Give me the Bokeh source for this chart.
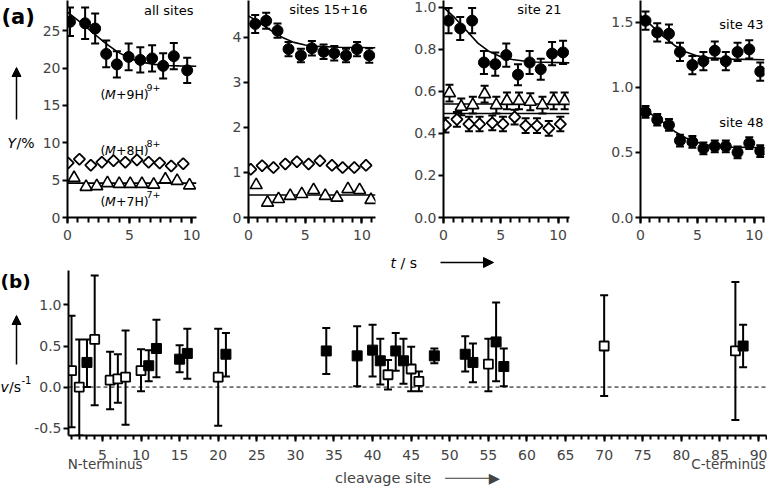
import numpy as np
from bokeh.plotting import figure
from bokeh.models import (Range1d, Whisker, TeeHead, Label, Arrow, NormalHead, Span,
                          SingleIntervalTicker, FixedTicker, PrintfTickFormatter,
                          ColumnDataSource, LinearAxis)
from bokeh.core.properties import value
from bokeh.layouts import column, row
from bokeh.embed import file_html
from bokeh.resources import INLINE

# ---------------- data ----------------
# (a) all sites
all_t9 = [0.2, 1.42, 2.23, 3.12, 3.98, 4.93, 5.87, 6.82, 7.71, 8.57, 9.65]
all_y9 = [26.2, 26.0, 25.3, 21.9, 20.5, 21.5, 21.1, 21.3, 20.3, 21.6, 19.7]
all_e9 = [1.9, 2.1, 2.0, 1.8, 1.75, 1.8, 1.7, 1.75, 1.7, 1.75, 1.7]
all_fit9_t = [0, 1, 2, 3, 4, 5, 6, 7, 8, 9, 10.4]
all_fit9_y = [27.5, 26.2, 24.8, 23.4, 22.2, 21.3, 20.8, 20.5, 20.35, 20.3, 20.25]
all_t8 = [0.05, 0.96, 1.88, 2.77, 3.71, 4.66, 5.6, 6.54, 7.43, 8.36, 9.33]
all_y8 = [7.3, 7.8, 7.0, 7.4, 7.6, 7.4, 7.7, 7.4, 7.3, 6.9, 7.2]
all_t7 = [0.53, 1.5, 2.36, 3.22, 4.17, 5.06, 6.0, 6.95, 7.89, 8.84, 9.84]
all_y7 = [5.3, 4.1, 4.2, 4.6, 4.5, 4.5, 4.5, 4.4, 5.1, 4.9, 4.3]
all_fit7_t = [0, 10.4]
all_fit7_y = [4.6, 4.6]

# (a) sites 15+16
s15_t9 = [0.59, 1.56, 2.56, 3.53, 4.62, 5.59, 6.62, 7.56, 8.6, 9.57, 10.65]
s15_y9 = [4.3, 4.37, 4.15, 3.74, 3.6, 3.76, 3.68, 3.65, 3.6, 3.74, 3.6]
s15_e9 = [0.2, 0.18, 0.16, 0.16, 0.15, 0.16, 0.16, 0.16, 0.15, 0.16, 0.16]
s15_fit9_t = [0, 1, 2, 3, 4, 5, 6, 8, 11.2]
s15_fit9_y = [4.48, 4.32, 4.15, 4.0, 3.89, 3.83, 3.8, 3.78, 3.77]
s15_t8 = [0.2, 1.2, 2.2, 3.25, 4.27, 5.3, 6.3, 7.36, 8.3, 9.33, 10.36]
s15_y8 = [1.07, 1.15, 1.11, 1.19, 1.24, 1.19, 1.26, 1.16, 1.11, 1.11, 1.16]
s15_t7 = [0.68, 1.68, 2.65, 3.68, 4.7, 5.74, 6.77, 7.8, 8.77, 9.8, 10.8]
s15_y7 = [0.72, 0.33, 0.41, 0.48, 0.52, 0.61, 0.48, 0.44, 0.63, 0.61, 0.39]
s15_fit7_t = [0, 11.2]
s15_fit7_y = [0.5, 0.5]

# (a) site 21
s21_t9 = [0.44, 1.46, 2.5, 3.53, 4.52, 5.48, 6.5, 7.52, 8.49, 9.48, 10.44]
s21_y9 = [0.937, 0.9, 0.937, 0.738, 0.73, 0.773, 0.68, 0.738, 0.706, 0.78, 0.786]
s21_e9 = [0.06, 0.055, 0.06, 0.055, 0.055, 0.055, 0.05, 0.055, 0.05, 0.055, 0.055]
s21_fit9_t = [0, 1, 2, 3, 4, 5, 6, 7, 8, 11]
s21_fit9_y = [1.0, 0.95, 0.89, 0.83, 0.79, 0.765, 0.752, 0.745, 0.74, 0.736]
s21_t8 = [0.17, 1.17, 2.22, 3.15, 4.26, 5.19, 6.21, 7.17, 8.16, 9.19, 10.2]
s21_y8 = [0.44, 0.467, 0.445, 0.445, 0.45, 0.445, 0.478, 0.437, 0.437, 0.424, 0.445]
s21_e8 = [0.035] * 11
s21_t7 = [0.52, 1.55, 2.56, 3.59, 4.61, 5.54, 6.59, 7.58, 8.64, 9.62, 10.58]
s21_y7 = [0.592, 0.527, 0.535, 0.587, 0.535, 0.555, 0.555, 0.551, 0.535, 0.555, 0.555]
s21_e7 = [0.04] * 11
s21_fit7_t = [0, 11]
s21_fit7_y = [0.54, 0.54]
s21_fit8_t = [0, 11]
s21_fit8_y = [0.495, 0.495]

# (a) sites 43 and 48
s43_t = [0.44, 1.47, 2.5, 3.47, 4.56, 5.53, 6.53, 7.5, 8.53, 9.56, 10.53]
s43_y = [1.51, 1.42, 1.41, 1.27, 1.17, 1.2, 1.28, 1.2, 1.27, 1.29, 1.12]
s43_e = [0.07] * 11
s43_fit_t = [0, 1, 2, 3, 4, 5, 6, 8, 10.9]
s43_fit_y = [1.55, 1.47, 1.39, 1.32, 1.27, 1.24, 1.225, 1.215, 1.21]
s48_t = [0.44, 1.47, 2.5, 3.47, 4.56, 5.53, 6.53, 7.5, 8.53, 9.56, 10.53]
s48_y = [0.81, 0.75, 0.71, 0.59, 0.58, 0.53, 0.546, 0.546, 0.5, 0.57, 0.51]
s48_e = [0.045] * 11
s48_fit_t = [0, 1, 2, 3, 4, 5, 6, 8, 10.9]
s48_fit_y = [0.84, 0.79, 0.73, 0.66, 0.61, 0.575, 0.555, 0.54, 0.535]

# (b) rate per cleavage site
open_site = [1, 2, 4, 6, 7, 8, 10, 20, 42, 45, 46, 55, 70, 87]
open_v = [0.2, 0.0, 0.58, 0.084, 0.1, 0.12, 0.2, 0.12, 0.15, 0.22, 0.07, 0.28, 0.5, 0.44]
open_lo = [-0.49, -0.59, -0.22, -0.27, -0.19, -0.46, -0.05, -0.47, -0.03, -0.05, -0.05, -0.05, -0.11, -0.4]
open_hi = [0.87, 0.58, 1.36, 0.43, 0.4, 0.69, 0.46, 0.71, 0.33, 0.49, 0.19, 0.59, 1.12, 1.28]
fill_site = [3, 11, 12, 15, 16, 21, 34, 38, 40, 41, 43, 44, 48, 52, 53, 56, 57, 88]
fill_v = [0.3, 0.26, 0.47, 0.34, 0.41, 0.4, 0.44, 0.38, 0.45, 0.32, 0.44, 0.32, 0.38, 0.4, 0.3, 0.55, 0.25, 0.5]
fill_lo = [0.0, 0.07, 0.12, 0.18, 0.1, 0.13, 0.16, 0.01, 0.13, 0.03, 0.2, 0.04, 0.29, 0.19, 0.06, 0.07, 0.01, 0.24]
fill_hi = [0.58, 0.45, 0.82, 0.51, 0.71, 0.66, 0.72, 0.74, 0.76, 0.59, 0.66, 0.59, 0.47, 0.62, 0.53, 1.03, 0.47, 0.76]
terminus_pos = [5.35, 86.1]
terminus_lab = ["N-terminus", "C-terminus"]

# ---------------- layout helpers ----------------
FONT = "DejaVu Sans"


def base_fig(cx0, cx1, cy0, cy1, fl, fr, ft, fb, xr, yr):
    p = figure(width=cx1 - cx0, height=cy1 - cy0, x_range=Range1d(*xr), y_range=Range1d(*yr),
               min_border_left=fl - cx0, min_border_right=cx1 - fr,
               min_border_top=ft - cy0, min_border_bottom=cy1 - fb,
               output_backend="svg", toolbar_location=None, tools="")
    p.outline_line_color = None
    p.xgrid.visible = False
    p.ygrid.visible = False
    p.background_fill_color = "white"
    p.border_fill_color = "white"
    for ax in (p.xaxis[0], p.yaxis[0]):
        ax.axis_line_width = 2
        ax.major_tick_line_width = 2
        ax.minor_tick_line_width = 2
        ax.major_tick_in = 0
        ax.minor_tick_in = 0
        ax.major_label_text_font = FONT
        ax.major_label_text_font_size = "14px"
    p.xaxis.major_tick_out = 6
    p.xaxis.minor_tick_out = 5
    p.xaxis.major_label_standoff = 6
    p.yaxis.major_tick_out = 5
    p.yaxis.major_label_standoff = 2
    p.yaxis.minor_tick_line_color = None
    return p, dict(fx=fl, fy=fb)


def blank_fig(w, h, y_top, y_bottom):
    # frame is aligned with its row neighbours; data units equal page pixels
    p = figure(width=w, height=h, x_range=Range1d(0, w), y_range=Range1d(y_bottom, y_top),
               x_axis_type=None, y_axis_type=None, min_border_left=0, min_border_right=0,
               min_border_top=0, min_border_bottom=0,
               output_backend="svg", toolbar_location=None, tools="")
    p.outline_line_color = None
    p.background_fill_color = "white"
    p.border_fill_color = "white"
    return p


def gtext(p, x, y, s, size=14, style="normal", align="left"):
    p.text(x=[x], y=[y], text=[s], text_font=value(FONT), text_font_size=value(f"{size}px"),
           text_font_style=value(style), text_align=value(align), text_baseline=value("middle"),
           text_color="black")


def garrow(p, x0, y0, x1, y1, head=9):
    p.add_layout(Arrow(x_start=x0, y_start=y0, x_end=x1, y_end=y1, line_width=1.5, line_color="black",
                       end=NormalHead(size=head, fill_color="black", line_color="black", line_width=1)))


def txt(p, g, X, Y, text, size=14, align="left", style="normal"):
    p.add_layout(Label(x=X - g["fx"], y=g["fy"] - Y, x_units="screen", y_units="screen",
                       text=text, text_font=FONT, text_font_size=f"{size}px",
                       text_align=align, text_baseline="middle", text_font_style=style,
                       text_color="black"))


def whisk(p, x, lo, hi, head=8):
    src = ColumnDataSource(dict(base=x, lower=lo, upper=hi))
    p.add_layout(Whisker(source=src, base="base", lower="lower", upper="upper", dimension="height",
                         line_width=2, line_color="black",
                         upper_head=TeeHead(size=head, line_width=2, line_color="black"),
                         lower_head=TeeHead(size=head, line_width=2, line_color="black")))


def err(p, x, y, e):
    whisk(p, x, [a - b for a, b in zip(y, e)], [a + b for a, b in zip(y, e)])


def circles(p, x, y):
    p.scatter(x, y, marker="circle", size=11, fill_color="black", line_color="black")


def diamonds(p, x, y):
    p.scatter(x, y, marker="square", angle=np.pi / 4, size=8, fill_color="white",
              line_color="black", line_width=1.8)


def triangles(p, x, y):
    p.scatter(x, y, marker="triangle", size=12, fill_color="white", line_color="black", line_width=1.6)


def fit(p, x, y):
    p.line(x, y, line_width=1.6, line_color="black")


def top_axes(p, yticks, fmt=None):
    p.xaxis.ticker = SingleIntervalTicker(interval=5, num_minor_ticks=6)
    p.yaxis.ticker = FixedTicker(ticks=yticks)
    if fmt:
        p.yaxis.formatter = PrintfTickFormatter(format=fmt)


def charge(p, g, X, Y, n):
    txt(p, g, X, Y, "(", size=12.5)
    txt(p, g, X + 4.6, Y, "M", size=12.5, style="italic")
    txt(p, g, X + 15.5, Y, f"+{n}H)", size=12.5)
    txt(p, g, X + 46, Y - 7, f"{n}+", size=9.5)


TOP = 247
FB_TOP = 217

# ---------------- left gutter of (a) ----------------
ga = blank_fig(35, TOP, 0, FB_TOP)
gtext(ga, 1, 16, "(a)", size=21, style="bold")
gtext(ga, 7, 142, "Y", size=14, style="italic")
gtext(ga, 16, 142, "/%", size=14)
garrow(ga, 16, 119, 16, 67)

# ---------------- panel (a): all sites ----------------
p1, g1 = base_fig(35, 200, 0, TOP, 67, 196, 0, FB_TOP, (0, 10.4), (0, 29.05))
top_axes(p1, [0, 5, 10, 15, 20, 25])
err(p1, all_t9, all_y9, all_e9)
fit(p1, all_fit9_t, all_fit9_y)
fit(p1, all_fit7_t, all_fit7_y)
circles(p1, all_t9, all_y9)
diamonds(p1, all_t8, all_y8)
triangles(p1, all_t7, all_y7)
txt(p1, g1, 193, 10, "all sites", size=13, align="right")
charge(p1, g1, 100, 94, 9)
charge(p1, g1, 100, 150, 8)
charge(p1, g1, 100, 201, 7)

# ---------------- panel (a): sites 15+16 ----------------
p2, g2 = base_fig(200, 398, 0, TOP, 248, 375, 0, FB_TOP, (0, 11.2), (0, 4.82))
top_axes(p2, [0, 1, 2, 3, 4])
err(p2, s15_t9, s15_y9, s15_e9)
fit(p2, s15_fit9_t, s15_fit9_y)
fit(p2, s15_fit7_t, s15_fit7_y)
circles(p2, s15_t9, s15_y9)
diamonds(p2, s15_t8, s15_y8)
triangles(p2, s15_t7, s15_y7)
txt(p2, g2, 367, 9, "sites 15+16", size=13, align="right")

# ---------------- panel (a): site 21 ----------------
p3, g3 = base_fig(398, 592, 0, TOP, 443, 569, 0, FB_TOP, (0, 11.0), (0, 1.033))
top_axes(p3, [0, 0.2, 0.4, 0.6, 0.8, 1.0], "%.1f")
err(p3, s21_t9, s21_y9, s21_e9)
err(p3, s21_t8, s21_y8, s21_e8)
err(p3, s21_t7, s21_y7, s21_e7)
fit(p3, s21_fit9_t, s21_fit9_y)
fit(p3, s21_fit7_t, s21_fit7_y)
fit(p3, s21_fit8_t, s21_fit8_y)
circles(p3, s21_t9, s21_y9)
diamonds(p3, s21_t8, s21_y8)
triangles(p3, s21_t7, s21_y7)
txt(p3, g3, 561, 9, "site 21", size=13, align="right")

# ---------------- panel (a): sites 43 / 48 ----------------
p4, g4 = base_fig(592, 767, 0, TOP, 640, 764, 0, FB_TOP, (0, 10.9), (0, 1.665))
top_axes(p4, [0, 0.5, 1.0, 1.5], "%.1f")
err(p4, s43_t, s43_y, s43_e)
err(p4, s48_t, s48_y, s48_e)
fit(p4, s43_fit_t, s43_fit_y)
fit(p4, s48_fit_t, s48_fit_y)
circles(p4, s43_t, s43_y)
circles(p4, s48_t, s48_y)
txt(p4, g4, 763, 24, "site 43", size=13, align="right")
txt(p4, g4, 763, 122, "site 48", size=13, align="right")

# ---------------- strip with the time-axis title ----------------
st = blank_fig(767, 270 - TOP, TOP, 270)
gtext(st, 390, 262, "t", size=14, style="italic")
gtext(st, 400, 262, "/ s", size=14)
garrow(st, 440, 262, 493, 262, head=10)

# ---------------- left gutter of (b) ----------------
gb_ = blank_fig(31, 219, 270, 435)
gtext(gb_, 0, 281, "(b)", size=18.5, style="bold")
gtext(gb_, 0, 386, "v", size=14, style="italic")
gtext(gb_, 8.5, 386, "/s", size=14)
gtext(gb_, 21, 379, "-1", size=10)
garrow(gb_, 16, 364, 16, 315)

# ---------------- panel (b) ----------------
pb, gb = base_fig(31, 767, 270, 489, 66, 766, 270, 435, (0.607, 91.03), (-0.59, 1.42))
pb.xaxis.ticker = SingleIntervalTicker(interval=5, num_minor_ticks=5)
pb.xaxis.minor_tick_out = 4
pb.xaxis.major_label_standoff = 8
pb.yaxis.ticker = FixedTicker(ticks=[-0.5, 0.0, 0.5, 1.0])
pb.yaxis.formatter = PrintfTickFormatter(format="%.1f")
pb.add_layout(Span(location=0, dimension="width", line_dash="4 3", line_width=1, line_color="black"))
whisk(pb, open_site, open_lo, open_hi)
whisk(pb, fill_site, fill_lo, fill_hi)
pb.scatter(open_site, open_v, marker="square", size=9, fill_color="white", line_color="black", line_width=1.8)
pb.scatter(fill_site, fill_v, marker="square", size=10, fill_color="black", line_color="black")

ax_nc = LinearAxis(ticker=FixedTicker(ticks=terminus_pos),
                   major_label_overrides=dict(zip(terminus_pos, terminus_lab)),
                   axis_line_color=None, major_tick_line_color=None, minor_tick_line_color=None,
                   major_tick_out=0, major_label_standoff=-7,
                   major_label_text_font=FONT, major_label_text_font_size="13.5px",
                   axis_label="cleavage site\u00a0\u00a0\u00a0\u2500\u2500\u2500\u2500\u2500\u25b6",
                   axis_label_standoff=-5, axis_label_text_font=FONT,
                   axis_label_text_font_size="14.5px", axis_label_text_font_style="normal")
pb.add_layout(ax_nc, "below")

layout = column(row(ga, p1, p2, p3, p4), st, row(gb_, pb))
open("out.html", "w").write(file_html(layout, INLINE))
